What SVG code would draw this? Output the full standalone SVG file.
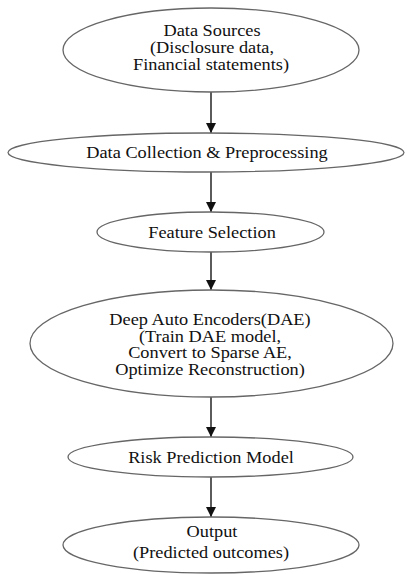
<svg xmlns="http://www.w3.org/2000/svg" width="407" height="574" viewBox="0 0 407 574">
<defs>
<style>
.n ellipse{fill:#fff;stroke:#666;stroke-width:1.3}
.n text{font-family:"Liberation Serif","Times New Roman",serif;font-size:16.5px;fill:#111;text-anchor:middle}
.e line{stroke:#333;stroke-width:1.6}
</style>
<marker id="ah" viewBox="0 0 10 10" refX="10" refY="5" markerWidth="10" markerHeight="11" markerUnits="userSpaceOnUse" orient="auto">
<path d="M0,0 L10,5 L0,10 Z" fill="#111"/>
</marker>
</defs>
<rect width="407" height="574" fill="#fff"/>
<g id="connectors" class="e">
<line x1="211" y1="92" x2="211" y2="133" marker-end="url(#ah)"/>
<line x1="211" y1="172" x2="211" y2="212" marker-end="url(#ah)"/>
<line x1="211" y1="252" x2="211" y2="290" marker-end="url(#ah)"/>
<line x1="211" y1="397" x2="211" y2="437" marker-end="url(#ah)"/>
<line x1="211" y1="477" x2="211" y2="517" marker-end="url(#ah)"/>
</g>
<g id="n1" class="n">
<ellipse cx="211" cy="50" rx="148" ry="42"/>
<text transform="translate(212 36) scale(1.11 1)">Data Sources</text>
<text transform="translate(212 52.5) scale(1.11 1)">(Disclosure data,</text>
<text transform="translate(211 69.5) scale(1.11 1)">Financial statements)</text>
</g>
<g id="n2" class="n">
<ellipse cx="206" cy="152.5" rx="198" ry="19.5"/>
<text transform="translate(207 157.5) scale(1.11 1)">Data Collection &amp; Preprocessing</text>
</g>
<g id="n3" class="n">
<ellipse cx="210.5" cy="232" rx="113.5" ry="20"/>
<text transform="translate(212 237.5) scale(1.11 1)">Feature Selection</text>
</g>
<g id="n4" class="n">
<ellipse cx="211.5" cy="343.5" rx="181.5" ry="53.5"/>
<text transform="translate(210 325) scale(1.11 1)">Deep Auto Encoders(DAE)</text>
<text transform="translate(210 341.5) scale(1.11 1)">(Train DAE model,</text>
<text transform="translate(210 358) scale(1.11 1)">Convert to Sparse AE,</text>
<text transform="translate(210 374.5) scale(1.11 1)">Optimize Reconstruction)</text>
</g>
<g id="n5" class="n">
<ellipse cx="210.5" cy="457" rx="142.5" ry="20"/>
<text transform="translate(211 462.5) scale(1.11 1)">Risk Prediction Model</text>
</g>
<g id="n6" class="n">
<ellipse cx="211" cy="545" rx="148" ry="28"/>
<text transform="translate(212 536.5) scale(1.11 1)">Output</text>
<text transform="translate(211 558) scale(1.11 1)">(Predicted outcomes)</text>
</g>
</svg>
